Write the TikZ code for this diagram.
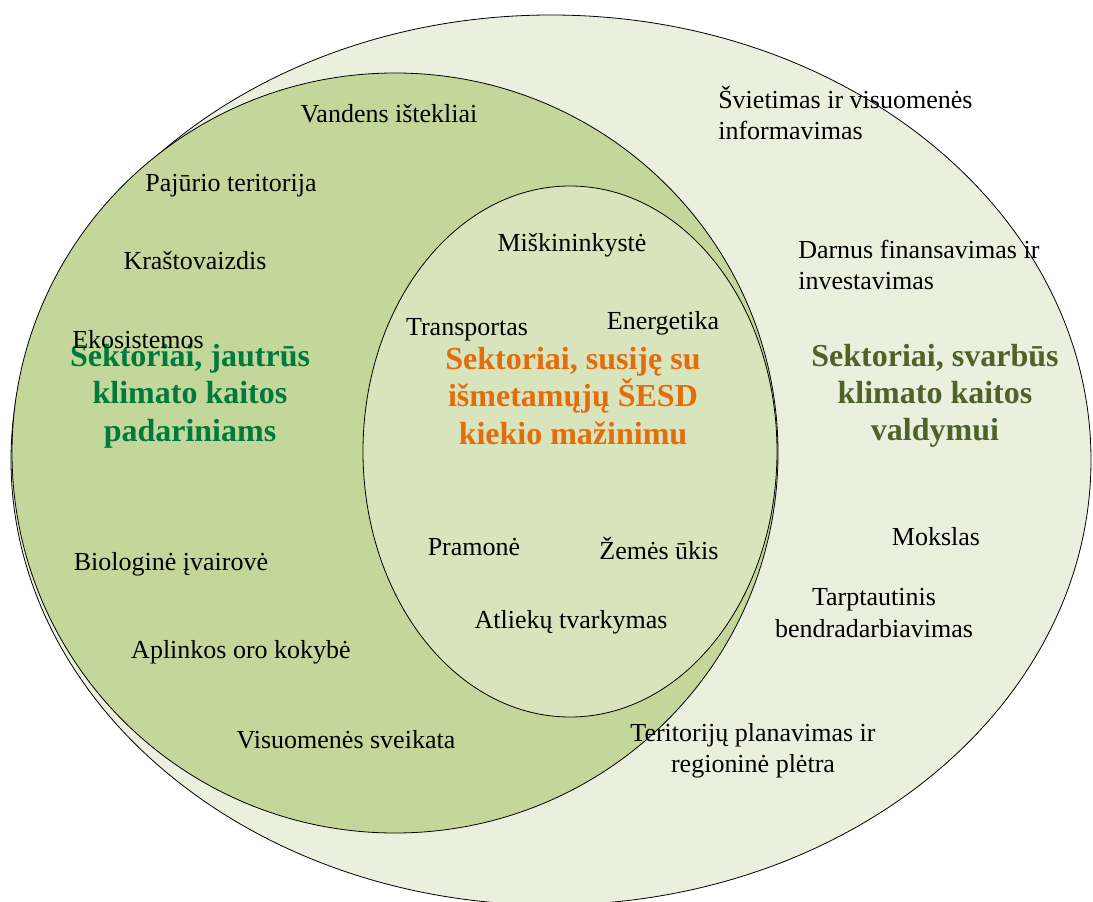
\documentclass[tikz,border=0pt]{standalone}
\usepackage{fontspec}
\setmainfont{Liberation Serif}
\definecolor{outerfill}{HTML}{EBF0DE}
\definecolor{midfill}{HTML}{C4D79B}
\definecolor{innerfill}{HTML}{D8E4BC}
\definecolor{tgreen}{HTML}{00793D}
\definecolor{torange}{HTML}{E46C0A}
\definecolor{tolive}{HTML}{4F6228}
\begin{document}
\begin{tikzpicture}[x=0.75pt,y=-0.75pt,
  ring/.style={draw=black, line width=0.6pt},
  lbl/.style={font=\fontsize{19.5}{23.5}\selectfont, inner sep=0pt, align=center},
  lbll/.style={font=\fontsize{19.5}{23.3}\selectfont, inner sep=0pt, align=left, anchor=west},
  ttl/.style={font=\bfseries\fontsize{24}{28}\selectfont, inner sep=0pt, align=center}]
\useasboundingbox (0,0) rectangle (1093,902);
\clip (0,0) rectangle (1093,902);
% sets
\draw[ring, fill=outerfill] (551,460) ellipse [x radius=540, y radius=445];
\draw[ring, fill=midfill] (395,453) ellipse [x radius=383, y radius=380];
\draw[ring, fill=innerfill] (570,451.5) ellipse [x radius=207, y radius=265.5];
% titles
\node[ttl, text=tgreen] (t1) at (190,396) {Sektoriai, jautrūs\\klimato kaitos\\padariniams};
\node[ttl, text=torange] (t2) at (573,396) {Sektoriai, susiję su\\išmetamųjų ŠESD\\kiekio mažinimu};
\node[ttl, text=tolive] (t3) at (935,396) {Sektoriai, svarbūs\\klimato kaitos\\valdymui};
% left ring
\node[lbl] (a1) at (389,114) {Vandens ištekliai};
\node[lbl] (a2) at (231,186) {Pajūrio teritorija};
\node[lbl] (a3) at (195,261) {Kraštovaizdis};
\node[lbl] (a4) at (138,340) {Ekosistemos};
\node[lbl] (a5) at (171,564) {Biologinė įvairovė};
\node[lbl] (a6) at (241,652) {Aplinkos oro kokybė};
\node[lbl] (a7) at (346,740) {Visuomenės sveikata};
% inner
\node[lbl] (b1) at (572,245) {Miškininkystė};
\node[lbl] (b2) at (467,330) {Transportas};
\node[lbl] (b3) at (663,323) {Energetika};
\node[lbl] (b4) at (474,547) {Pramonė};
\node[lbl] (b5) at (659,548) {Žemės ūkis};
\node[lbl] (b6) at (571,622) {Atliekų tvarkymas};
% outer
\node[lbll] (c1) at (718,113) {Švietimas ir visuomenės\\informavimas};
\node[lbll] (c2) at (798,265) {Darnus finansavimas ir\\investavimas};
\node[lbl] (c3) at (936,537) {Mokslas};
\node[lbl] (c4) at (874,613) {Tarptautinis\\bendradarbiavimas};
\node[lbl] (c5) at (753,751) {Teritorijų planavimas ir\\regioninė plėtra};
\end{tikzpicture}
\end{document}
